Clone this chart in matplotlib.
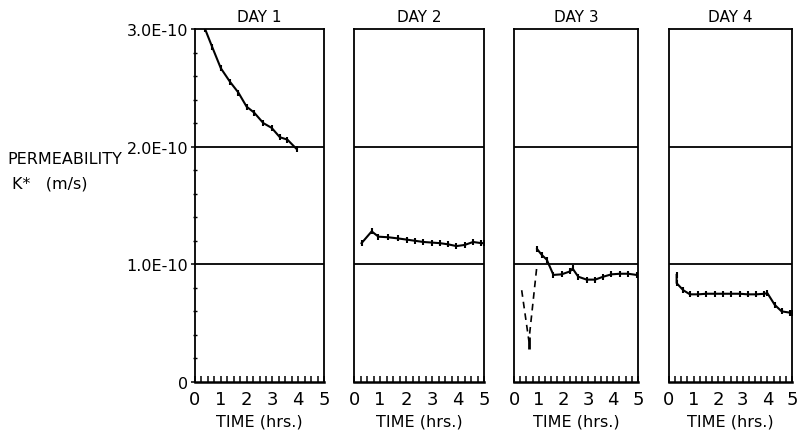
import matplotlib
matplotlib.use('Agg')
from matplotlib import pyplot as plt
from matplotlib.ticker import MultipleLocator, FixedLocator

# permeability values are in units of 1E-10 m/s, time in hours
day1_t = [0.39, 0.67, 1.0, 1.36, 1.68, 2.0, 2.29, 2.65, 2.97, 3.29, 3.58, 3.94]
day1_k = [3.0, 2.845, 2.667, 2.55, 2.46, 2.34, 2.29, 2.2, 2.16, 2.08, 2.06, 1.98]

day2_t = [0.29, 0.68, 0.94, 1.32, 1.7, 2.03, 2.35, 2.67, 2.99, 3.3, 3.62, 3.94, 4.26, 4.58, 4.9, 5.0]
day2_k = [1.18, 1.28, 1.235, 1.23, 1.22, 1.21, 1.2, 1.19, 1.185, 1.18, 1.17, 1.155, 1.165, 1.19, 1.18, 1.18]

day3_dash_t = [0.31, 0.6, 0.93]
day3_dash_k = [0.78, 0.35, 1.0]
day3_t = [0.93, 1.12, 1.32, 1.59, 1.92, 2.26, 2.36, 2.59, 2.93, 3.27, 3.6, 3.93, 4.27, 4.6, 4.94]
day3_k = [1.13, 1.08, 1.04, 0.91, 0.915, 0.94, 0.965, 0.895, 0.87, 0.87, 0.895, 0.915, 0.92, 0.92, 0.91]

day4_t = [0.31, 0.31, 0.58, 0.85, 1.19, 1.52, 1.86, 2.2, 2.54, 2.88, 3.2, 3.54, 3.88, 4.0, 4.3, 4.58, 4.9, 5.0]
day4_k = [0.91, 0.84, 0.78, 0.745, 0.745, 0.75, 0.75, 0.75, 0.75, 0.75, 0.745, 0.745, 0.75, 0.755, 0.655, 0.6, 0.59, 0.59]

days = ['DAY 1', 'DAY 2', 'DAY 3', 'DAY 4']
y_ticks = [0, 1, 2, 3]
y_labels = ['0', '1.0E-10', '2.0E-10', '3.0E-10']
x_ticks = [0, 1, 2, 3, 4, 5]


def main():
    plt.rcParams['font.family'] = ['DejaVu Sans']
    fig = plt.figure(figsize=(7.97, 4.39), dpi=100)

    W, H = 797, 439
    boxes = [(195, 324), (354, 484), (514, 638), (669, 792)]
    top, bottom = 30, 383

    axes = []
    for (x0, x1) in boxes:
        ax = fig.add_axes([x0 / W, 1 - bottom / H, (x1 - x0) / W, (bottom - top) / H])
        axes.append(ax)

    series = [(day1_t, day1_k), (day2_t, day2_k), (day3_t, day3_k), (day4_t, day4_k)]

    for i, ax in enumerate(axes):
        t, k = series[i]
        ax.plot(t, k, color='black', lw=1.5, marker='|', ms=5, mew=1.5)
        if i == 2:
            ax.plot(day3_dash_t, day3_dash_k, color='black', lw=1.2, ls=(0, (4, 3)))
            ax.plot([0.6], [0.33], color='black', marker='|', ms=9, mew=2)

        for lvl in (1, 2):
            ax.axhline(lvl, color='black', lw=1.3)

        ax.set_xlim(0, 5)
        ax.set_ylim(0, 3)
        for s in ax.spines.values():
            s.set_linewidth(1.3)
        ax.spines['bottom'].set_linewidth(1.8)

        ax.xaxis.set_major_locator(FixedLocator(x_ticks))
        ax.xaxis.set_minor_locator(MultipleLocator(0.25))
        ax.tick_params(axis='x', which='both', direction='in', length=4, width=1.1,
                       labelsize=13, pad=6)
        ax.set_xlabel('TIME (hrs.)', fontsize=11.5, labelpad=4)
        ax.set_title(days[i], fontsize=11, pad=6)

        if i == 0:
            ax.yaxis.set_major_locator(FixedLocator(y_ticks))
            ax.set_yticklabels(y_labels)
            ax.yaxis.set_minor_locator(MultipleLocator(0.2))
            ax.tick_params(axis='y', which='major', direction='out', length=3, width=1.1,
                           labelsize=11.5, pad=2)
            ax.tick_params(axis='y', which='minor', direction='inout', length=3, width=1)
        else:
            ax.set_yticks([])

    fig.text(7 / W, 1 - 160 / H, 'PERMEABILITY', fontsize=11.5, va='center', ha='left')
    fig.text(12 / W, 1 - 184 / H, 'K*   (m/s)', fontsize=11.5, va='center', ha='left')

    fig.savefig('out.png', dpi=100)


if __name__ == '__main__':
    main()
